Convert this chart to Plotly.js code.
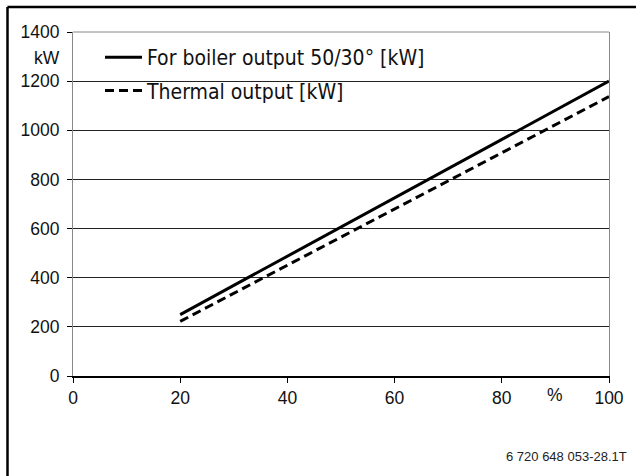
<!DOCTYPE html>
<html>
<head>
<meta charset="utf-8">
<script src="https://cdn.plot.ly/plotly-3.0.1.min.js"></script>
<style>
html,body{margin:0;padding:0;background:#fff;}
#chart{width:636px;height:476px;}
</style>
</head>
<body>
<div id="chart"></div>
<script>
// Data
const loadPercent = [20, 100];
const boilerOutput = [250, 1200];
const thermalOutput = [222, 1137];
const seriesNames = ["For boiler output 50/30° [kW]", "Thermal output [kW]"];
const xTicks = [0, 20, 40, 60, 80, 100];
const yTicks = [0, 200, 400, 600, 800, 1000, 1200, 1400];
const yUnitLabel = "kW";
const xUnitLabel = "%";
const footnote = "6 720 648 053-28.1T";

const W = 636, H = 476;
const M = {l: 73, r: 27, t: 32, b: 100};
const pw = W - M.l - M.r, ph = H - M.t - M.b;
const px = v => (v - M.l) / pw;           // pixel -> paper x
const py = v => 1 - (v - M.t) / ph;       // pixel -> paper y

const tickFont = {family: "Arial, 'Liberation Sans', sans-serif", size: 17.5, color: "#111"};

const traces = [
  {x: loadPercent, y: boilerOutput, name: seriesNames[0], mode: "lines", legendgroup: "a",
   line: {color: "#000", width: 3}},
  {x: loadPercent, y: thermalOutput, name: seriesNames[1], mode: "lines", legendgroup: "b",
   line: {color: "#000", width: 3, dash: "9px,5px"}}
];

const layout = {
  width: W, height: H,
  margin: M,
  paper_bgcolor: "#fff", plot_bgcolor: "#fff",
  showlegend: true,
  legend: {
    x: px(100), xanchor: "left",
    y: py(37), yanchor: "top",
    bgcolor: "rgba(0,0,0,0)",
    font: {family: "'Liberation Sans Narrow', 'DejaVu Sans Condensed', sans-serif", size: 21, color: "#111"},
    itemwidth: 37,
    tracegroupgap: 3,
    traceorder: "grouped"
  },
  xaxis: {
    range: [0, 100], tickvals: xTicks, ticktext: xTicks.map(String),
    showgrid: false, zeroline: false,
    showline: true, linecolor: "#000", linewidth: 1.5,
    ticks: "outside", ticklen: 5, tickcolor: "#000", tickwidth: 1,
    tickfont: tickFont, fixedrange: true
  },
  yaxis: {
    range: [0, 1400], tickvals: yTicks, ticktext: yTicks.map(String),
    showgrid: true, gridcolor: "#222", gridwidth: 1,
    zeroline: false,
    showline: true, linecolor: "#888", linewidth: 1, mirror: true,
    ticks: "outside", ticklen: 5, tickcolor: "#000", tickwidth: 1,
    ticklabelstandoff: 4,
    tickfont: tickFont, fixedrange: true
  },
  annotations: [
    {text: yUnitLabel, xref: "paper", yref: "paper", x: px(62), y: py(58),
     xanchor: "right", yanchor: "middle", showarrow: false, font: tickFont},
    {text: xUnitLabel, xref: "x", yref: "paper", x: 90, y: py(395),
     xanchor: "center", yanchor: "middle", showarrow: false, font: tickFont},
    {text: footnote, xref: "paper", yref: "paper", x: px(629), y: py(456),
     xanchor: "right", yanchor: "middle", showarrow: false,
     font: {family: "Arial, 'Liberation Sans', sans-serif", size: 13, color: "#222"}}
  ],
  shapes: [
    {type: "line", xref: "paper", yref: "paper", x0: 0, x1: 1, y0: 1, y1: 1,
     line: {color: "#888", width: 1}, layer: "above"},
    {type: "line", xref: "paper", yref: "paper", x0: px(7.5), x1: px(700), y0: py(7), y1: py(7),
     line: {color: "#000", width: 2.5}},
    {type: "line", xref: "paper", yref: "paper", x0: px(7.5), x1: px(7.5), y0: py(7), y1: py(520),
     line: {color: "#000", width: 2.5}}
  ]
};

Plotly.newPlot("chart", traces, layout, {displayModeBar: false, staticPlot: true});
</script>
</body>
</html>
